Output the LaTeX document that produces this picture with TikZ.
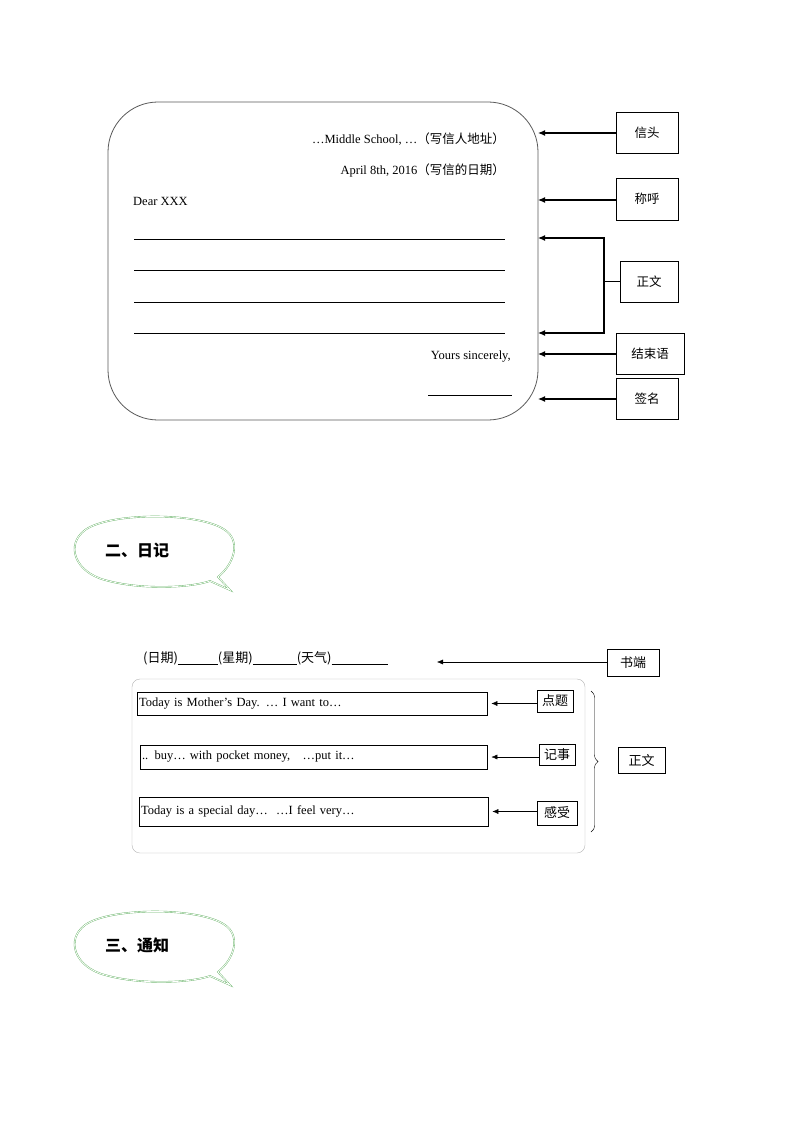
\documentclass[tikz,border=0pt]{standalone}
\usepackage{fontspec}
\setmainfont{Liberation Serif}
\newfontfamily\cjk{Noto Sans CJK SC}
\usetikzlibrary{arrows.meta,decorations.pathreplacing}
\begin{document}
\begin{tikzpicture}[x=1pt,y=-1pt,
  lab/.style={draw,thick,inner sep=0,font=\cjk\fontsize{12.5}{12.5}\selectfont},
  slab/.style={draw,inner sep=0,font=\cjk\fontsize{13}{13}\selectfont},
  arr/.style={-{Latex[length=7pt,width=6pt]},line width=1.2pt},
  sarr/.style={-{Latex[length=6pt,width=5pt]}},
  txt/.style={inner sep=0,font=\fontsize{12.5}{14}\selectfont},
  bub/.style={draw=green!50!black!60,double=white,double distance=0.8pt,line width=0.4pt},
  bt/.style={inner sep=0,font=\cjk\bfseries\fontsize{16}{16}\selectfont}]
\useasboundingbox (0,0) rectangle (794,1123);
% letter
\draw[gray!70!black,thick,rounded corners=50] (108,102) rectangle (538,420);
\node[txt,anchor=east] (l1) at (505,139) {\dots Middle School, \dots{\cjk（写信人地址）}};
\node[txt,anchor=east] (l2) at (505,170) {April 8th, 2016{\cjk（写信的日期）}};
\node[txt,anchor=west] (l3) at (133,201) {Dear XXX};
\foreach \y in {239,270,302,333} \draw (134,\y) -- (505,\y);
\node[txt,anchor=east] (l4) at (511,357) {Yours sincerely,};
\draw (428,395) -- (512,395);
\node[lab,minimum width=62,minimum height=41] (b1) at (647,133) {信头};
\node[lab,minimum width=62,minimum height=42] (b2) at (647,199) {称呼};
\node[lab,minimum width=58,minimum height=41] (b3) at (649,281.5) {正文};
\node[lab,minimum width=68,minimum height=41] (b4) at (650,353.5) {结束语};
\node[lab,minimum width=62,minimum height=41] (b5) at (647,398.5) {签名};
\coordinate (t1) at (538,133); \coordinate (t2) at (538,200);
\coordinate (t3) at (538,238); \coordinate (t4) at (538,333);
\coordinate (t5) at (538,354); \coordinate (t6) at (538,399);
\draw[arr] (b1.west) -- (t1);
\draw[arr] (b2.west|-t2) -- (t2);
\draw[arr] (b4.west|-t5) -- (t5);
\draw[arr] (b5.west|-t6) -- (t6);
\draw[line width=1.2pt] (b3.west) -- (604,281.5);
\draw[arr] (604,238) -- (t3);
\draw[arr] (604,333) -- (t4);
\draw[line width=1.2pt] (604,237.4) -- (604,333.6);
% bubble 1
\draw[bub] (218,577) .. controls (236,562) and (240,540) .. (225,530)
  .. controls (200,512) and (110,512) .. (85,530)
  .. controls (65,545) and (75,572) .. (105,580)
  .. controls (140,590) and (190,588) .. (210,581) -- (230,590) -- cycle;
\node[bt,anchor=west] (h1) at (105,550) {二、日记};
% bubble 2
\draw[bub] (218,972) .. controls (236,957) and (240,935) .. (225,925)
  .. controls (200,907) and (110,907) .. (85,925)
  .. controls (65,940) and (75,967) .. (105,975)
  .. controls (140,985) and (190,983) .. (210,976) -- (230,985) -- cycle;
\node[bt,anchor=west] (h2) at (105,945) {三、通知};
% diary
\node[inner sep=0,anchor=west,font=\cjk\fontsize{13}{13}\selectfont] (d0) at (143,658)
  {(日期)\rule[-2pt]{40pt}{0.6pt}(星期)\rule[-2pt]{44pt}{0.6pt}(天气)\rule[-2pt]{56pt}{0.6pt}};
\node[slab,minimum width=52,minimum height=27] (sd) at (633,662.5) {书端};
\coordinate (sdt) at (437,662);
\draw[sarr] (sd.west|-sdt) -- (sdt);
\draw[gray!60,rounded corners=8] (132,679) rectangle (585,853);
\node[draw,thick,txt,minimum width=350,minimum height=23,text width=346] (r1) at (312,703.5) {Today is Mother's Day. \dots\ I want to\dots};
\node[draw,thick,txt,minimum width=347,minimum height=24,text width=343] (r2) at (313.5,757) {.. buy\dots\ with pocket money, \ \ \dots put it\dots};
\node[draw,thick,txt,minimum width=349,minimum height=29,text width=345] (r3) at (313.5,811.5) {Today is a special day\dots \ \ \dots I feel very\dots};
\node[slab,minimum width=36,minimum height=22] (s1) at (555,701) {点题};
\node[slab,minimum width=36,minimum height=21] (s2) at (557,754.5) {记事};
\node[slab,minimum width=40,minimum height=24] (s3) at (557,813) {感受};
\draw[sarr] (s1.west|-r1) -- ([xshift=4pt]r1.east);
\draw[sarr] (s2.west|-r2) -- ([xshift=4pt]r2.east);
\draw[sarr] (s3.west|-r3) -- ([xshift=4pt]r3.east);
\draw[decorate,decoration={brace,amplitude=7pt}] (591,691) -- (591,832);
\node[slab,minimum width=47,minimum height=26] (zw) at (641.5,760) {正文};
\end{tikzpicture}
\end{document}
